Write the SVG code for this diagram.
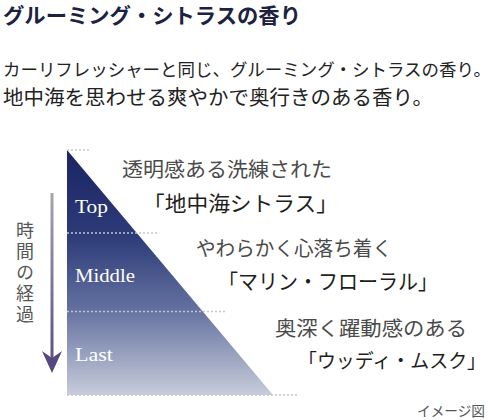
<svg xmlns="http://www.w3.org/2000/svg" width="497" height="420" viewBox="0 0 497 420">
<style>
.jp{font-family:"Noto Sans CJK JP","Noto Sans",sans-serif}
.title{font-size:21px;font-weight:700;fill:#1c2340}
.lead{font-size:20px;fill:#222;font-weight:400}
.sub{font-size:20px;fill:#4a4a4a}
.name{font-size:21px;fill:#1e1e1e}
.stage{font-family:"Liberation Serif",serif;font-size:19px;fill:#ffffff}
.dash{stroke:#c4c6ce;stroke-width:1.5;stroke-dasharray:2 2;fill:none}
</style>
<defs>
<linearGradient id="tri" x1="0" y1="150" x2="0" y2="395" gradientUnits="userSpaceOnUse">
<stop offset="0" stop-color="#1a2562"/>
<stop offset="0.35" stop-color="#2d3b78"/>
<stop offset="0.65" stop-color="#6371a0"/>
<stop offset="1" stop-color="#c8ccda"/>
</linearGradient>
<linearGradient id="arr" x1="0" y1="193" x2="0" y2="373" gradientUnits="userSpaceOnUse">
<stop offset="0" stop-color="#a4a4b4"/>
<stop offset="1" stop-color="#574880"/>
</linearGradient>
</defs>
<g id="header">
<text class="jp title" x="3" y="23" textLength="298" lengthAdjust="spacingAndGlyphs">グルーミング・シトラスの香り</text>
<text class="jp lead" x="3" y="76" style="font-size:17.6px" textLength="488" lengthAdjust="spacingAndGlyphs">カーリフレッシャーと同じ、グルーミング・シトラスの香り。</text>
<text class="jp lead" x="3" y="105" textLength="430" lengthAdjust="spacingAndGlyphs">地中海を思わせる爽やかで奥行きのある香り。</text>
</g>
<g id="pyramid">
<polygon points="67,150 273,395 67,395" fill="url(#tri)"/>
<line class="dash" x1="67" y1="150" x2="91" y2="150"/>
<line class="dash" x1="67" y1="233" x2="158" y2="233"/>
<line class="dash" x1="67" y1="311.5" x2="227" y2="311.5"/>
<line class="dash" x1="67" y1="395" x2="298" y2="395"/>
</g>
<g id="top">
<text class="stage" x="75" y="213" textLength="33" lengthAdjust="spacingAndGlyphs">Top</text>
<text class="jp sub" x="122" y="177" textLength="210" lengthAdjust="spacingAndGlyphs">透明感ある洗練された</text>
<text class="jp name" x="143" y="211" textLength="195" lengthAdjust="spacingAndGlyphs">「地中海シトラス」</text>
</g>
<g id="middle">
<text class="stage" x="75" y="282" textLength="60" lengthAdjust="spacingAndGlyphs">Middle</text>
<text class="jp sub" x="196" y="256" textLength="196" lengthAdjust="spacingAndGlyphs">やわらかく心落ち着く</text>
<text class="jp name" x="218" y="289" textLength="220" lengthAdjust="spacingAndGlyphs">「マリン・フローラル」</text>
</g>
<g id="last">
<text class="stage" x="75" y="361" textLength="38" lengthAdjust="spacingAndGlyphs">Last</text>
<text class="jp sub" x="275" y="336" textLength="192" lengthAdjust="spacingAndGlyphs">奥深く躍動感のある</text>
<text class="jp name" x="298" y="368" style="font-size:19px" textLength="188" lengthAdjust="spacingAndGlyphs">「ウッディ・ムスク」</text>
</g>
<g id="connectors">
<line x1="52" y1="193" x2="52" y2="362" stroke="url(#arr)" stroke-width="3"/>
<path d="M42,351 L52,373 L62,351 L52,358 Z" fill="#574880"/>
</g>
<g id="time-label">
<text class="jp" font-size="18" fill="#555" x="25" y="221" style="writing-mode:vertical-rl;letter-spacing:3px">時間の経過</text>
</g>
<g id="note">
<text class="jp" font-size="14" fill="#555" x="417" y="416" textLength="68" lengthAdjust="spacingAndGlyphs">イメージ図</text>
</g>
</svg>
